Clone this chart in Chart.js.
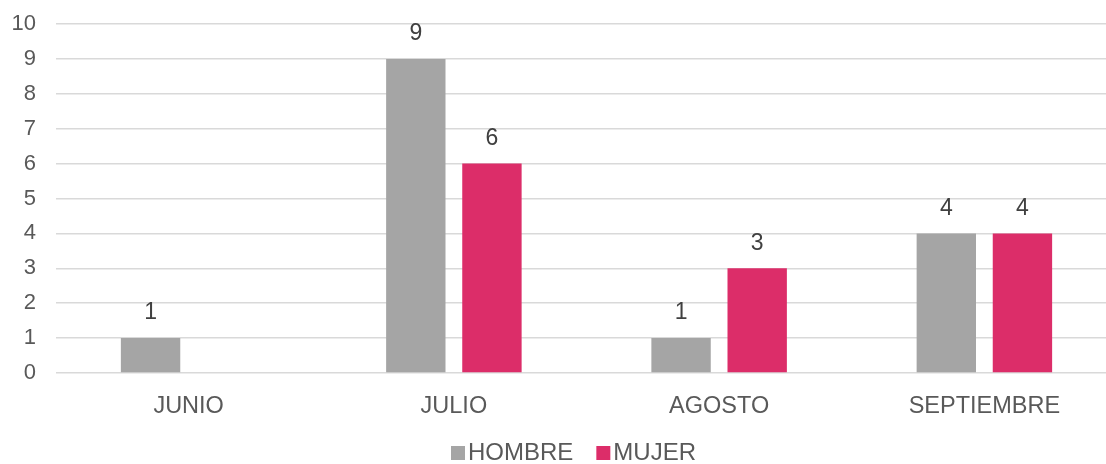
<!DOCTYPE html>
<html>
<head>
<meta charset="utf-8">
<script src="https://cdn.jsdelivr.net/npm/chart.js@4"></script>
<style>
  html, body { margin: 0; padding: 0; background: #fff; overflow: hidden; }
  #wrap { width: 1117px; height: 464px; }
</style>
</head>
<body>
<div id="wrap"><canvas id="chart"></canvas></div>
<script>
const meses = ["JUNIO", "JULIO", "AGOSTO", "SEPTIEMBRE"]
const hombre = [1, 9, 1, 4]
const mujer = [null, 6, 3, 4]
const seriesNames = ["HOMBRE", "MUJER"]

const textColor = "#595959"
const fontFamily = "'Liberation Sans', Arial, sans-serif"

// etiquetas de valor encima de cada barra
const valueLabels = {
  id: "valueLabels",
  afterDatasetsDraw(chart) {
    const ctx = chart.ctx
    ctx.save()
    ctx.fillStyle = "#404040"
    ctx.font = "23px " + fontFamily
    ctx.textAlign = "center"
    ctx.textBaseline = "middle"
    chart.data.datasets.forEach((ds, i) => {
      chart.getDatasetMeta(i).data.forEach((bar, j) => {
        const v = ds.data[j]
        if (v === null || v === undefined) return
        ctx.fillText(String(v), bar.x, bar.y - 25)
      })
    })
    ctx.restore()
  },
}

// leyenda abajo, cuadrado pegado al texto
const bottomLegend = {
  id: "bottomLegend",
  afterDraw(chart) {
    const ctx = chart.ctx
    ctx.save()
    ctx.font = "24px " + fontFamily
    ctx.textBaseline = "middle"
    ctx.textAlign = "left"
    let x = 451
    const y = 453
    chart.data.datasets.forEach((ds) => {
      ctx.fillStyle = ds.backgroundColor
      ctx.fillRect(x, y - 7, 14, 14)
      ctx.fillStyle = textColor
      ctx.fillText(ds.label, x + 17, y)
      x += 17 + ctx.measureText(ds.label).width + 23
    })
    ctx.restore()
  },
}

const data = {
  labels: meses,
  datasets: [
    { label: seriesNames[0], data: hombre, backgroundColor: "#A5A5A5" },
    { label: seriesNames[1], data: mujer, backgroundColor: "#DC2D69" },
  ],
}

const config = {
  type: "bar",
  data: data,
  plugins: [valueLabels, bottomLegend],
  options: {
    responsive: true,
    maintainAspectRatio: false,
    animation: false,
    layout: { padding: { top: 24, left: 0, right: 0, bottom: 0 } },
    datasets: {
      bar: { categoryPercentage: 0.574, barPercentage: 0.78 },
    },
    plugins: {
      legend: { display: false },
      tooltip: { enabled: false },
    },
    scales: {
      x: {
        grid: { display: false, drawTicks: false },
        border: { display: false },
        ticks: {
          color: textColor,
          font: { size: 23.5, family: fontFamily },
          padding: 19,
        },
        afterFit: (scale) => {
          scale.height = 91
          scale.paddingLeft = 0
          scale.paddingRight = 0
        },
      },
      y: {
        min: 0,
        max: 10,
        ticks: {
          stepSize: 1,
          color: textColor,
          font: { size: 22, family: fontFamily },
          padding: 20,
        },
        grid: { color: "#D9D9D9", lineWidth: 1.5, drawTicks: false },
        border: { display: false },
        afterFit: (scale) => {
          scale.width = 56
          scale.paddingTop = 0
          scale.paddingBottom = 0
        },
      },
    },
  },
}

new Chart(document.getElementById("chart"), config)
</script>
</body>
</html>
